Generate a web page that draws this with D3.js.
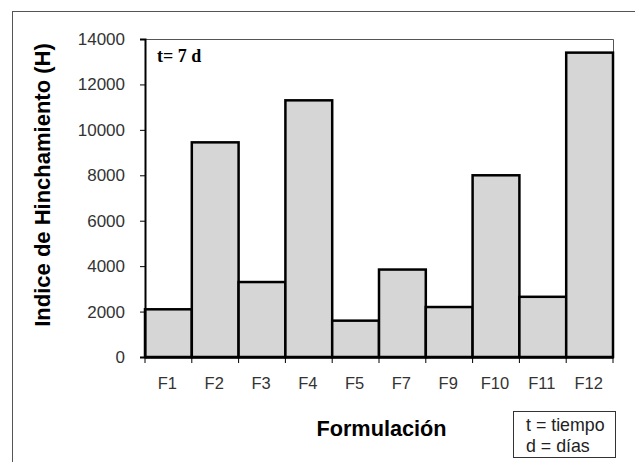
<!DOCTYPE html>
<html><head><meta charset="utf-8">
<script src="https://cdn.jsdelivr.net/npm/d3@7"></script>
<style>body{margin:0;background:#fff}svg{display:block}</style>
</head><body>
<script>
const categories = ["F1","F2","F3","F4","F5","F7","F9","F10","F11","F12"];
const values = [2100, 9450, 3300, 11300, 1600, 3850, 2200, 8000, 2650, 13400];
const yTicks = [0,2000,4000,6000,8000,10000,12000,14000];

const W = 635, H = 462;
const SANS = "Liberation Sans, Arial, sans-serif";
const svg = d3.select("body").append("svg").attr("width", W).attr("height", H);
svg.append("rect").attr("width", W).attr("height", H).attr("fill", "#fff");

// outer frame (extends beyond image on right/bottom)
svg.append("rect").attr("x", 12.5).attr("y", 11.5).attr("width", 640).attr("height", 470)
  .attr("fill", "none").attr("stroke", "#555").attr("stroke-width", 1);

const L = 145, R = 613, T = 39, B = 357;
const x = d3.scaleBand().domain(categories).range([L, R]).padding(0);
const y = d3.scaleLinear().domain([0, 14000]).range([B, T]);

// plot area border (top & right)
svg.append("path").attr("d", `M${L},${T+0.5}H${R+0.5}V${B}`)
  .attr("fill", "none").attr("stroke", "#555").attr("stroke-width", 1);

// bars
svg.append("g").selectAll("rect").data(values).join("rect")
  .attr("x", (d,i) => x(categories[i]))
  .attr("y", d => y(d))
  .attr("width", x.bandwidth())
  .attr("height", d => B - y(d))
  .attr("fill", "#d6d6d6").attr("stroke", "#000").attr("stroke-width", 2.5);

// y axis
const yAxis = svg.append("g").attr("transform", `translate(${L},0)`)
  .call(d3.axisLeft(y).tickValues(yTicks).tickSize(5).tickPadding(15).tickFormat(d3.format("d")));
yAxis.select(".domain").attr("stroke", "#000").attr("stroke-width", 2);
yAxis.selectAll(".tick line").attr("stroke", "#000");
yAxis.selectAll("text").attr("font-family", SANS)
  .attr("font-size", 17).attr("fill", "#333");

// x axis
const xAxis = svg.append("g").attr("transform", `translate(0,${B})`)
  .call(d3.axisBottom(x).tickSize(0).tickPadding(20));
xAxis.select(".domain").attr("stroke", "#000").attr("stroke-width", 2.5);
xAxis.selectAll("text").attr("font-family", SANS)
  .attr("font-size", 16.5).attr("fill", "#333").attr("dx", -1);
// boundary ticks
const bounds = categories.map(c => x(c)).concat([R]);
svg.append("g").selectAll("line").data(bounds).join("line")
  .attr("x1", d => d).attr("x2", d => d).attr("y1", B).attr("y2", B + 6)
  .attr("stroke", "#000").attr("stroke-width", 1);

// axis titles
svg.append("text").attr("transform", `translate(50,185) rotate(-90)`)
  .attr("text-anchor", "middle").attr("font-family", SANS)
  .attr("font-weight", "bold").attr("font-size", 22).text("Indice de Hinchamiento (H)");
svg.append("text").attr("x", 381.5).attr("y", 435.5)
  .attr("text-anchor", "middle").attr("font-family", SANS).attr("font-weight", "bold")
  .attr("font-size", 21.7).text("Formulación");

// annotation
svg.append("text").attr("x", 157).attr("y", 62)
  .attr("font-family", "Liberation Serif, Times New Roman, serif").attr("font-weight", "bold")
  .attr("font-size", 18).text("t= 7 d");

// legend box
svg.append("rect").attr("x", 513.5).attr("y", 411.5).attr("width", 102).attr("height", 46)
  .attr("fill", "#fff").attr("stroke", "#333").attr("stroke-width", 1);
const lt = svg.append("g").attr("font-family", SANS)
  .attr("font-size", 17.8).attr("fill", "#222");
lt.append("text").attr("x", 526).attr("y", 431).text("t = tiempo");
lt.append("text").attr("x", 526).attr("y", 452).text("d = días");
</script>
</body></html>
